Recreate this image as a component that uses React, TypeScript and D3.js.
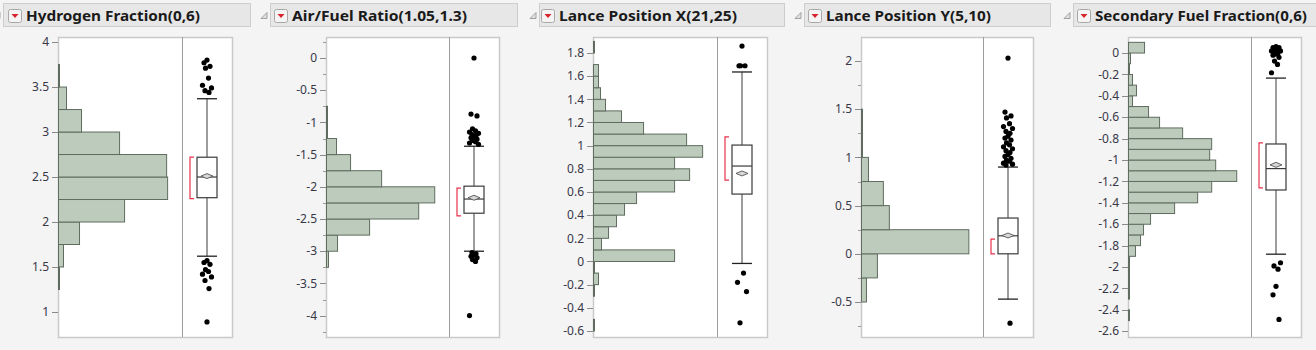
import React, { useEffect } from "react";
import * as d3 from "d3";

// ---- data ----
const titles = [
  "Hydrogen Fraction(0,6)",
  "Air/Fuel Ratio(1.05,1.3)",
  "Lance Position X(21,25)",
  "Lance Position Y(5,10)",
  "Secondary Fuel Fraction(0,6)",
];

// Hydrogen Fraction
const hydrogenDomain = [0.722, 4.056];
const hydrogenTicks = [1, 1.5, 2, 2.5, 3, 3.5, 4];
const hydrogenMinor: number[] = [];
const hydrogenBinStart = 1.25;
const hydrogenBinWidth = 0.25;
const hydrogenCounts = [1, 5, 21, 66, 109, 108, 61, 23, 8, 1];
// [lower whisker, q1, median, q3, upper whisker]
const hydrogenBox = [1.62, 2.27, 2.5, 2.72, 3.37];
const hydrogenMean = 2.51;
const hydrogenShortest = [2.26, 2.72];
const hydrogenOutliers = [3.8, 3.77, 3.73, 3.71, 3.6, 3.52, 3.49, 3.46, 3.44,
  1.57, 1.55, 1.53, 1.47, 1.45, 1.42, 1.39, 1.35, 1.26, 0.89];

// Air/Fuel Ratio
const airDomain = [-4.332, 0.326];
const airTicks = [-4, -3.5, -3, -2.5, -2, -1.5, -1, -0.5, 0];
const airMinor = [-4.25, -3.75, -3.25, -2.75, -2.25, -1.75, -1.25, -0.75, -0.25, 0.25];
const airBinStart = -3.25;
const airBinWidth = 0.25;
const airCounts = [2, 11, 43, 92, 108, 55, 24, 10, 1, 1];
const airBox = [-3.0, -2.41, -2.19, -1.99, -1.37];
const airMean = -2.17;
const airShortest = [-2.45, -2.02];
const airOutliers = [0.0, -0.87, -0.9, -1.1, -1.13, -1.15, -1.17, -1.19, -1.2, -1.22, -1.24,
  -1.26, -1.28, -1.3, -1.32, -1.34, -3.02, -3.04, -3.06, -3.08, -3.1, -3.13, -3.16, -4.0];

// Lance Position X
const lanceXDomain = [-0.652, 1.938];
const lanceXTicks = [-0.6, -0.4, -0.2, 0, 0.2, 0.4, 0.6, 0.8, 1, 1.2, 1.4, 1.6, 1.8];
const lanceXMinor: number[] = [];
const lanceXBinStart = -0.6;
const lanceXBinWidth = 0.1;
const lanceXCounts = [1, 0, 0, 1, 5, 1, 81, 8, 15, 23, 31, 43, 81, 96, 81, 109, 93, 50, 28, 12, 7, 5, 5, 0, 1];
const lanceXBox = [-0.017, 0.582, 0.824, 1.005, 1.636];
const lanceXMean = 0.76;
const lanceXShortest = [0.703, 1.075];
const lanceXOutliers = [1.86, 1.69, 1.69, 1.69, -0.1, -0.18, -0.26, -0.53];

// Lance Position Y
const lanceYDomain = [-0.863, 2.249];
const lanceYTicks = [-0.5, 0, 0.5, 1, 1.5, 2];
const lanceYMinor = [-0.75, -0.25, 0.25, 0.75, 1.25, 1.75];
const lanceYBinStart = -0.5;
const lanceYBinWidth = 0.25;
const lanceYCounts = [5, 16, 108, 28, 22, 7, 1, 1];
const lanceYBox = [-0.47, 0.0, 0.187, 0.371, 0.9];
const lanceYMean = 0.19;
const lanceYShortest = [0.0, 0.153];
const lanceYOutliers = [2.03, 1.47, 1.43, 1.41, 1.35, 1.32, 1.3, 1.27, 1.25, 1.22, 1.2, 1.18,
  1.15, 1.13, 1.11, 1.09, 1.07, 1.05, 1.03, 1.01, 0.99, 0.97, 0.96, 0.94, 0.93, 0.92, -0.72];

// Secondary Fuel Fraction
const fuelDomain = [-2.654, 0.15];
const fuelTicks = [-2.6, -2.4, -2.2, -2, -1.8, -1.6, -1.4, -1.2, -1, -0.8, -0.6, -0.4, -0.2, 0];
const fuelMinor: number[] = [];
const fuelBinStart = -2.5;
const fuelBinWidth = 0.1;
const fuelCounts = [1, 0, 1, 1, 1, 1, 7, 12, 15, 22, 46, 69, 83, 108, 87, 81, 83, 54, 31, 20, 4, 8, 4, 1, 2, 16];
const fuelBox = [-1.88, -1.28, -1.08, -0.85, -0.234];
const fuelMean = -1.045;
const fuelShortest = [-1.26, -0.84];
const fuelOutliers = [0.06, 0.05, 0.05, 0.04, 0.03, 0.02, 0.02, 0.01, 0.0, -0.01, -0.02, -0.04,
  -0.075, -0.106, -0.184, -1.96, -1.99, -2.02, -2.18, -2.26, -2.49];

// ---- layout (pixels) ----
const FRAME_TOP = 37;
const FRAME_BOTTOM = 337;
const layout = [
  { hx0: 3, hx1: 250, tx: 26, tw: 174, left: 58, div: 182, right: 232 },
  { hx0: 270, hx1: 517, tx: 292, tw: 175, left: 326, div: 449, right: 499 },
  { hx0: 539, hx1: 784, tx: 559, tw: 178, left: 593, div: 717, right: 767 },
  { hx0: 804, hx1: 1050, tx: 826, tw: 165, left: 861, div: 983, right: 1033 },
  { hx0: 1073, hx1: 1318, tx: 1095, tw: 212, left: 1128, div: 1251, right: 1301 },
];

const panels = [
  { title: titles[0], domain: hydrogenDomain, ticks: hydrogenTicks, minor: hydrogenMinor, binStart: hydrogenBinStart, binWidth: hydrogenBinWidth, counts: hydrogenCounts, box: hydrogenBox, mean: hydrogenMean, shortest: hydrogenShortest, outliers: hydrogenOutliers },
  { title: titles[1], domain: airDomain, ticks: airTicks, minor: airMinor, binStart: airBinStart, binWidth: airBinWidth, counts: airCounts, box: airBox, mean: airMean, shortest: airShortest, outliers: airOutliers },
  { title: titles[2], domain: lanceXDomain, ticks: lanceXTicks, minor: lanceXMinor, binStart: lanceXBinStart, binWidth: lanceXBinWidth, counts: lanceXCounts, box: lanceXBox, mean: lanceXMean, shortest: lanceXShortest, outliers: lanceXOutliers },
  { title: titles[3], domain: lanceYDomain, ticks: lanceYTicks, minor: lanceYMinor, binStart: lanceYBinStart, binWidth: lanceYBinWidth, counts: lanceYCounts, box: lanceYBox, mean: lanceYMean, shortest: lanceYShortest, outliers: lanceYOutliers },
  { title: titles[4], domain: fuelDomain, ticks: fuelTicks, minor: fuelMinor, binStart: fuelBinStart, binWidth: fuelBinWidth, counts: fuelCounts, box: fuelBox, mean: fuelMean, shortest: fuelShortest, outliers: fuelOutliers },
];

const jitter = [0, -3, 3, -1.5, 1.5, -4.5, 4.5, -2, 2];

const Panel = ({ p, l }: { p: any; l: any }) => {
  const y = d3.scaleLinear().domain(p.domain).range([FRAME_BOTTOM, FRAME_TOP]);
  const maxCount = d3.max(p.counts as number[]) as number;
  const x = d3.scaleLinear().domain([0, maxCount / 0.88]).range([l.left, l.div]);
  const cx = (l.div + l.right) / 2;
  const [lo, q1, med, q3, hi] = p.box;
  const bx = 10;

  return (
    <g>
      {/* header */}
      <rect x={l.hx0 + 0.5} y={3.5} width={l.hx1 - l.hx0} height={23} fill="#e7e7e7" stroke="#cdcdcd" />
      <path d={`M${l.hx0 - 3},12.5 V18.5 H${l.hx0 - 9} Z`} fill="#e0e0e0" stroke="#8f8f8f" strokeWidth={0.8} />
      <rect x={l.tx - 17.5} y={9.5} width={13} height={13} rx={2} fill="#f4f4f4" stroke="#a8a8a8" />
      <path d={`M${l.tx - 14.5},14 H${l.tx - 7.5} L${l.tx - 11},18 Z`} fill="#d8232a" />
      <text x={l.tx} y={21} fontFamily="'Noto Sans', 'Open Sans', sans-serif" fontWeight="bold"
        fontSize={15} fill="#1a1a1a" textLength={l.tw} lengthAdjust="spacingAndGlyphs">{p.title}</text>

      {/* frame */}
      <rect x={l.left + 0.5} y={FRAME_TOP + 0.5} width={l.right - l.left} height={FRAME_BOTTOM - FRAME_TOP}
        fill="#ffffff" stroke="#c9c9c9" strokeWidth={1.5} />
      <line x1={l.div + 0.5} x2={l.div + 0.5} y1={FRAME_TOP} y2={FRAME_BOTTOM} stroke="#9c9c9c" />

      {/* axis */}
      {p.ticks.map((t: number) => (
        <g key={"t" + t}>
          <line x1={l.left - 6} x2={l.left} y1={Math.round(y(t)) + 0.5} y2={Math.round(y(t)) + 0.5} stroke="#8a8a8a" />
          <text x={l.left - 9} y={y(t)} dy="0.35em" textAnchor="end" fontFamily="'Noto Sans', sans-serif"
            fontSize={12} fill="#383848">{String(t)}</text>
        </g>
      ))}
      {p.minor.map((t: number) => (
        <line key={"m" + t} x1={l.left - 3} x2={l.left} y1={Math.round(y(t)) + 0.5} y2={Math.round(y(t)) + 0.5} stroke="#9a9a9a" />
      ))}

      {/* histogram */}
      {p.counts.map((c: number, i: number) => {
        if (c === 0) return null;
        const v0 = p.binStart + i * p.binWidth;
        const v1 = v0 + p.binWidth;
        return (
          <rect key={"b" + i} x={l.left + 0.5} y={y(v1)} width={Math.max(0.5, x(c) - l.left)} height={y(v0) - y(v1)}
            fill="#bccbbb" stroke="#5f6c5f" strokeWidth={1} />
        );
      })}

      {/* shortest half bracket */}
      <path d={`M${cx - 13},${y(p.shortest[1])} H${cx - 17} V${y(p.shortest[0])} H${cx - 13}`}
        fill="none" stroke="#e8324a" strokeWidth={1.2} />

      {/* box plot */}
      <line x1={cx} x2={cx} y1={y(hi)} y2={y(q3)} stroke="#3a3a3a" />
      <line x1={cx} x2={cx} y1={y(q1)} y2={y(lo)} stroke="#3a3a3a" />
      <line x1={cx - bx} x2={cx + bx} y1={y(hi)} y2={y(hi)} stroke="#222" strokeWidth={1.3} />
      <line x1={cx - bx} x2={cx + bx} y1={y(lo)} y2={y(lo)} stroke="#222" strokeWidth={1.3} />
      <rect x={cx - bx} y={y(q3)} width={bx * 2} height={y(q1) - y(q3)} fill="#fff" stroke="#3a3a3a" strokeWidth={1.2} />
      <line x1={cx - bx} x2={cx + bx} y1={y(med)} y2={y(med)} stroke="#3a3a3a" strokeWidth={1.2} />
      <path d={`M${cx - 6},${y(p.mean)} L${cx},${y(p.mean) - 2.5} L${cx + 6},${y(p.mean)} L${cx},${y(p.mean) + 2.5} Z`}
        fill="#d8d8d8" stroke="#555" strokeWidth={0.9} />

      {/* outliers */}
      {p.outliers.map((v: number, i: number) => (
        <circle key={"o" + i} cx={cx + jitter[i % jitter.length]} cy={y(v)} r={2.6} fill="#000" />
      ))}
    </g>
  );
};

const App = () => {
  useEffect(() => {
    document.body.style.margin = "0";
    document.body.style.background = "#f4f4f4";
  }, []);

  return (
    <svg width={1316} height={350} style={{ display: "block", background: "#f4f4f4" }}>
      <rect x={0} y={0} width={1316} height={350} fill="#f4f4f4" />
      {panels.map((p, i) => (
        <Panel key={p.title} p={p} l={layout[i]} />
      ))}
    </svg>
  );
};

export default App;
